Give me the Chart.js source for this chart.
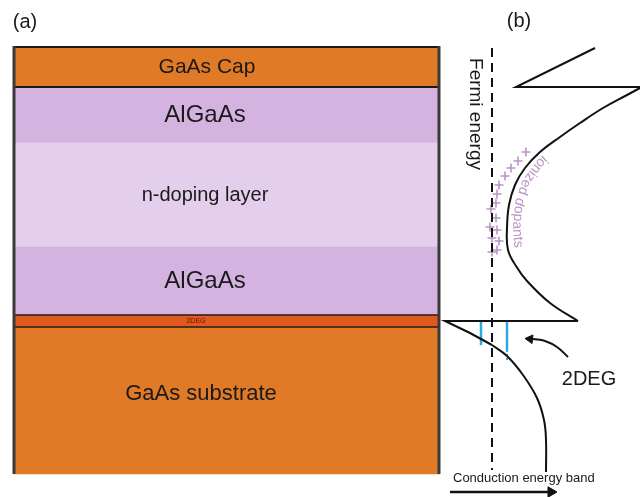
<!DOCTYPE html>
<html>
<head>
<meta charset="utf-8">
<script src="https://cdn.jsdelivr.net/npm/chart.js@4.4.1/dist/chart.umd.min.js"></script>
<style>
  html, body { margin: 0; padding: 0; background: #fff; }
  #wrap { width: 640px; height: 497px; }
</style>
</head>
<body>
<div id="wrap"><canvas id="heteroChart" width="640" height="497"></canvas></div>
<script>
// layer stack (depth units, top to bottom)
var layerNames = ['GaAs Cap', 'AlGaAs', 'n-doping layer', 'AlGaAs', '2DEG', 'GaAs substrate'];
var layerTop = [47, 87, 143, 247, 315, 327];
var layerBottom = [87, 143, 247, 315, 327, 474];
var stackCenter = 227;

// conduction band profile, drawn in pieces
var spikeX = [595, 516, 640];
var spikeY = [48, 87, 87];
var wellX = [640, 627, 603, 580, 560, 540, 525, 515, 509, 507, 508, 516, 527, 550, 578];
var wellY = [88, 95, 108, 123, 137, 152, 168, 185, 205, 228, 250, 266, 281, 303, 321];
var notchX = [578, 445, 470, 492];
var notchY = [321, 321, 333, 345];
var tailX = [492, 507, 523, 537, 544, 546, 546];
var tailY = [345, 356, 375, 398, 420, 440, 472];

// fermi level
var fermiX = 492;
var fermiY = [48, 470];

// ionized donors
var plusX = [526, 518, 511, 505, 499, 497, 496, 491, 496, 490, 497, 492, 499, 497, 492];
var plusY = [152, 161, 168, 176, 185, 194, 203, 209, 218, 227, 230, 238, 241, 250, 252];

// bound states in the triangular well
var stateX = [481, 507];
var stateBottom = [345, 350];

var purple = '#bc93c8';
var layerColors = ['#e07a27', '#d4b3e1', '#e3cfec', '#d4b3e1', '#e05a1f', '#e07a27'];

function pts(xs, ys) {
  return xs.map(function (x, i) { return { x: x, y: ys[i] }; });
}

function line(data, opts) {
  var ds = {
    type: 'line',
    data: data,
    borderColor: '#111',
    borderWidth: 2,
    pointRadius: 0,
    tension: 0,
    fill: false,
    clip: false
  };
  for (var k in opts) ds[k] = opts[k];
  return ds;
}

var datasets = [];

datasets.push({
  type: 'bar',
  data: layerNames.map(function (n, i) { return { x: stackCenter, y: [layerTop[i], layerBottom[i]] }; }),
  backgroundColor: layerColors,
  borderWidth: 0,
  barThickness: 425,
  grouped: false,
  order: 10
});

// stack outline
var left = 14, right = 439;
datasets.push(line(pts([left, left], [46, 474]), { borderColor: '#3a3a3a', borderWidth: 3 }));
datasets.push(line(pts([right, right], [46, 474]), { borderColor: '#3a3a3a', borderWidth: 3 }));
[47, 87].forEach(function (y) {
  datasets.push(line(pts([left, right], [y, y]), { borderColor: '#1a1a1a', borderWidth: 2 }));
});
[315, 327].forEach(function (y) {
  datasets.push(line(pts([left, right], [y, y]), { borderColor: '#2a1a1a', borderWidth: 1.5 }));
});

// band diagram
datasets.push(line(pts(spikeX, spikeY)));
datasets.push(line(pts(wellX, wellY), { tension: 0.4 }));
datasets.push(line(pts(notchX, notchY)));
datasets.push(line(pts(tailX, tailY), { tension: 0.4 }));
datasets.push(line(pts([fermiX, fermiX], fermiY), { borderDash: [9, 6], borderWidth: 2 }));

datasets.push(line(pts([stateX[0], stateX[0]], [322, stateBottom[0]]), { borderColor: '#29abe2', borderWidth: 2.5 }));
datasets.push(line(pts([stateX[1], stateX[1]], [322, stateBottom[1]]), { borderColor: '#29abe2', borderWidth: 2.5 }));
datasets.push(line(pts([stateX[1], stateX[1]], [stateBottom[1], 360]), { borderColor: '#29abe2', borderWidth: 2, borderDash: [2, 2] }));

datasets.push({
  type: 'scatter',
  data: pts(plusX, plusY),
  pointStyle: 'cross',
  pointRadius: 4.5,
  borderColor: purple,
  borderWidth: 1.6,
  backgroundColor: purple
});

// 2DEG pointer
datasets.push(line(pts([568, 557, 545, 533], [357, 347, 341, 339]), { tension: 0.4, borderWidth: 2 }));
datasets.push({
  type: 'scatter',
  data: [{ x: 530, y: 339 }],
  pointStyle: 'triangle',
  pointRadius: 5,
  rotation: 276,
  backgroundColor: '#111',
  borderColor: '#111',
  borderWidth: 1
});

// axis arrow under the band
datasets.push(line(pts([450, 548], [492, 492]), { borderWidth: 2.5 }));
datasets.push({
  type: 'scatter',
  data: [{ x: 551, y: 492 }],
  pointStyle: 'triangle',
  pointRadius: 6,
  rotation: 90,
  backgroundColor: '#111',
  borderColor: '#111',
  borderWidth: 1
});

var FONT = '"Liberation Sans", Arial, sans-serif';

function textOnPath(ctx, text, p) {
  var lens = [0];
  for (var i = 1; i < p.length; i++) {
    lens.push(lens[i - 1] + Math.hypot(p[i].x - p[i - 1].x, p[i].y - p[i - 1].y));
  }
  var total = lens[lens.length - 1];
  var d = (total - ctx.measureText(text).width) / 2;
  for (var c = 0; c < text.length; c++) {
    var ch = text[c];
    var w = ctx.measureText(ch).width;
    var mid = d + w / 2;
    var j = 1;
    while (j < p.length - 1 && lens[j] < mid) j++;
    var t = (mid - lens[j - 1]) / (lens[j] - lens[j - 1]);
    var x = p[j - 1].x + (p[j].x - p[j - 1].x) * t;
    var y = p[j - 1].y + (p[j].y - p[j - 1].y) * t;
    var a = Math.atan2(p[j].y - p[j - 1].y, p[j].x - p[j - 1].x);
    ctx.save();
    ctx.translate(x, y);
    ctx.rotate(a);
    ctx.fillText(ch, 0, 0);
    ctx.restore();
    d += w;
  }
}

var labelX = [207, 205, 205, 205, 196, 201];
var labelSize = [21, 24, 20, 24, 7, 22];

var labelsPlugin = {
  id: 'labels',
  afterDatasetsDraw: function (chart) {
    var ctx = chart.ctx;
    var sx = chart.scales.x, sy = chart.scales.y;
    ctx.save();
    ctx.textAlign = 'center';
    ctx.textBaseline = 'middle';
    ctx.fillStyle = '#1a1a1a';

    layerNames.forEach(function (name, i) {
      ctx.font = labelSize[i] + 'px ' + FONT;
      ctx.fillStyle = name === '2DEG' ? '#5a1a08' : '#1a1a1a';
      var yc = (layerTop[i] + layerBottom[i]) / 2;
      if (i === 5) yc = 394;
      ctx.fillText(name, sx.getPixelForValue(labelX[i]), sy.getPixelForValue(yc));
    });

    ctx.fillStyle = '#1a1a1a';
    ctx.font = '20px ' + FONT;
    ctx.fillText('(a)', sx.getPixelForValue(25), sy.getPixelForValue(22));
    ctx.fillText('(b)', sx.getPixelForValue(519), sy.getPixelForValue(21));
    ctx.fillText('2DEG', sx.getPixelForValue(589), sy.getPixelForValue(379));

    ctx.save();
    ctx.font = '19px ' + FONT;
    ctx.translate(sx.getPixelForValue(475), sy.getPixelForValue(114));
    ctx.rotate(Math.PI / 2);
    ctx.fillText('Fermi energy', 0, 0);
    ctx.restore();

    ctx.font = '13px ' + FONT;
    ctx.textAlign = 'left';
    ctx.fillText('Conduction energy band', sx.getPixelForValue(453), sy.getPixelForValue(478));

    // label bent along the outside of the well
    ctx.textAlign = 'center';
    ctx.font = '14px ' + FONT;
    ctx.fillStyle = purple;
    var path = pts([558, 540, 526, 519, 517, 518, 521], [147, 163, 182, 203, 225, 245, 264]).map(function (q) {
      return { x: sx.getPixelForValue(q.x), y: sy.getPixelForValue(q.y) };
    });
    textOnPath(ctx, 'ionized dopants', path);
    ctx.restore();
  }
};

new Chart(document.getElementById('heteroChart'), {
  type: 'scatter',
  data: { datasets: datasets },
  options: {
    responsive: false,
    animation: false,
    layout: { padding: 0, autoPadding: false },
    plugins: { legend: { display: false }, tooltip: { enabled: false } },
    scales: {
      x: { type: 'linear', min: 0, max: 640, offset: false, display: false },
      y: { type: 'linear', min: 0, max: 497, reverse: true, offset: false, display: false }
    }
  },
  plugins: [labelsPlugin]
});
</script>
</body>
</html>
